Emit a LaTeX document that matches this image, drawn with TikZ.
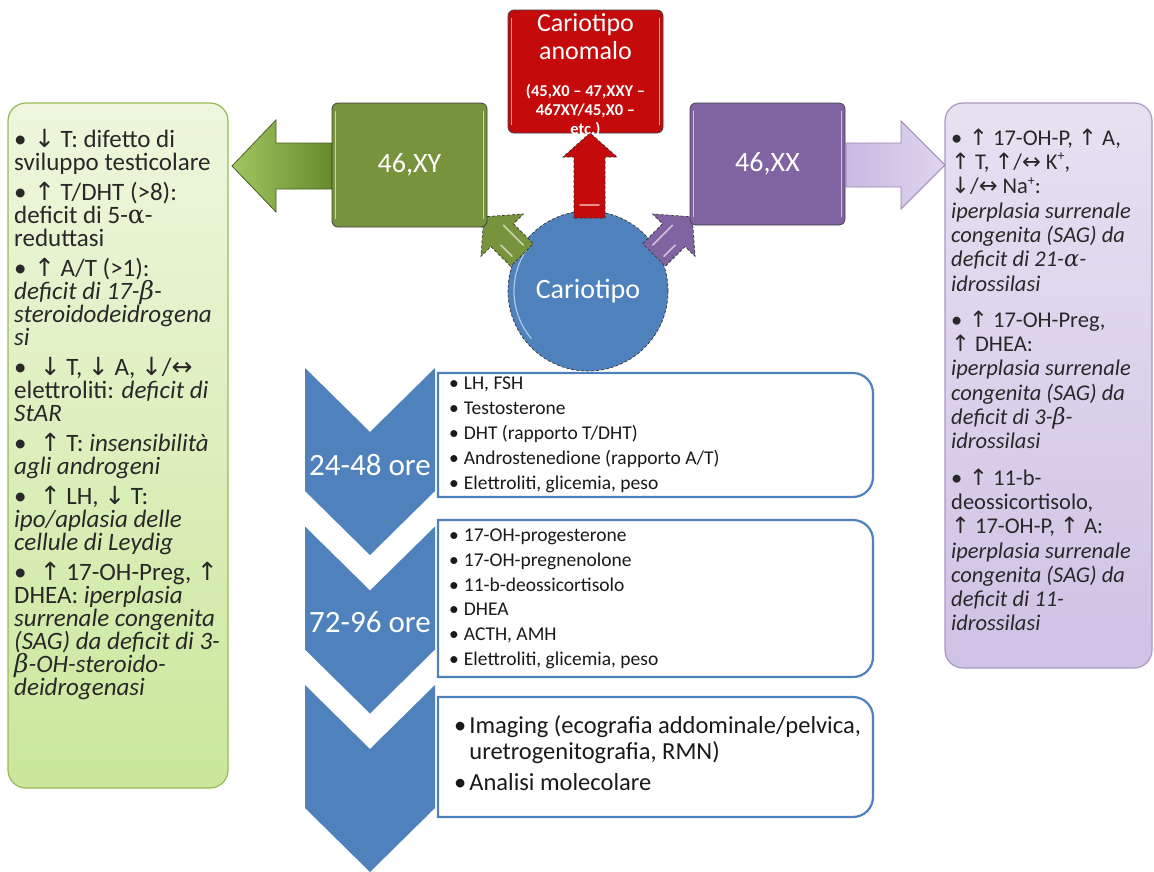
\documentclass[tikz,border=0pt]{standalone}
\usepackage{fontspec}
\setmainfont{Carlito}
\newfontfamily\symfont{DejaVu Sans}
\newfontfamily\gkfont{DejaVu Serif}
\newcommand\myua{{\symfont ↑}}
\newcommand\myda{{\symfont ↓}}
\newcommand\mylr{{\symfont ↔}}
\newcommand\myal{{\gkfont α}}
\newcommand\myali{{\gkfont\itshape α}}
\newcommand\mybe{{\gkfont\itshape β}}
\newcommand\mybul{\textbullet\hspace{0.3em}}
\newcommand\mysup[1]{\raisebox{0.38em}{\fontsize{14}{14}\selectfont #1}}
\definecolor{cgreen}{RGB}{119,147,60}
\definecolor{cred}{RGB}{196,10,10}
\definecolor{cpurple}{RGB}{128,100,162}
\definecolor{cblue}{RGB}{79,129,189}
\definecolor{lgtop}{RGB}{238,247,222}
\definecolor{lgbot}{RGB}{203,231,155}
\definecolor{lgborder}{RGB}{150,185,85}
\definecolor{lptop}{RGB}{231,225,241}
\definecolor{lpbot}{RGB}{206,194,229}
\definecolor{lpborder}{RGB}{170,152,196}
\definecolor{txt}{RGB}{40,40,40}
\definecolor{agl}{RGB}{160,198,96}
\definecolor{agd}{RGB}{104,138,46}
\definecolor{apl}{RGB}{200,186,225}
\definecolor{apr}{RGB}{222,213,238}
\begin{document}
\begin{tikzpicture}[x=1pt,y=-1pt,
  lpanel/.style={draw=lgborder, line width=1.2pt, rounded corners=18pt, top color=lgtop, bottom color=lgbot, minimum width=220pt, minimum height=685pt, inner sep=0},
  rpanel/.style={draw=lpborder, line width=1.2pt, rounded corners=18pt, top color=lptop, bottom color=lpbot, minimum width=207pt, minimum height=565pt, inner sep=0},
  kbox/.style={rounded corners=6pt, draw=black!75, line width=0.8pt, minimum width=155pt, inner sep=0, text=white, font=\fontsize{28}{32}\selectfont},
  chev/.style={fill=cblue},
  tbox/.style={draw=cblue, line width=2.2pt, fill=white},
  outl/.style={draw=black!80, line width=0.7pt, densely dashed},
  ltxt/.style={anchor=base west, inner sep=0, text=txt, font=\fontsize{25}{28}\selectfont},
  rtxt/.style={anchor=base west, inner sep=0, text=txt, font=\fontsize{22.5}{26}\selectfont},
  btxt/.style={anchor=base west, inner sep=0, text=black!90, font=\fontsize{19.5}{22}\selectfont},
  b3txt/.style={anchor=base west, inner sep=0, text=black!90, font=\fontsize{24.5}{28}\selectfont},
  wtxt/.style={text=white, inner sep=0, align=center},
  hl/.style={line width=1.6pt, line cap=round}
]
\useasboundingbox (0,0) rectangle (1154,871);
\fill[white] (0,0) rectangle (1154,871);

% side panels
\node[lpanel] (lp) at (118,445.5) {};
\node[rpanel] (rp) at (1048.5,385.5) {};

% big side arrows
\draw[left color=agl, right color=agd, draw=agd!70!black, line width=0.8pt]
  (332,143) -- (276,143) -- (276,120) -- (232,166) -- (276,212) -- (276,189) -- (332,189) -- cycle;
\draw[left color=apl, right color=apr, draw=cpurple!80, line width=0.8pt]
  (846,143) -- (901,143) -- (901,121) -- (945,165) -- (901,209) -- (901,187) -- (846,187) -- cycle;

% central circle
\node[circle, fill=cblue, outl, minimum size=160pt, inner sep=0, text=white, font=\fontsize{28}{32}\selectfont] (car) at (588,291) {Cariotipo};
\draw[white!55!cblue, line width=1.2pt] (car.center) ++(-140:74pt) arc[start angle=-140, end angle=-220, radius=74pt];

% small arrows
\begin{scope}[shift={(522,255)}, rotate=135]
  \draw[fill=cgreen, outl] (0,-16) -- (28,-16) -- (28,-30) -- (54,0) -- (28,30) -- (28,16) -- (0,16) -- cycle;
  \draw[hl, white!60!cgreen] (6,8) -- (34,8);
  \draw[hl, white!60!cgreen] (6,-8) -- (22,-8);
\end{scope}
\begin{scope}[shift={(654,255)}, rotate=45]
  \draw[fill=cpurple, outl] (0,-16) -- (28,-16) -- (28,-30) -- (54,0) -- (28,30) -- (28,16) -- (0,16) -- cycle;
  \draw[hl, white!60!cpurple] (6,8) -- (22,8);
  \draw[hl, white!60!cpurple] (6,-8) -- (34,-8);
\end{scope}

% red arrow
\draw[fill=cred, outl] (574,218) -- (574,157) -- (563,157) -- (590,133) -- (617,157) -- (605,157) -- (605,218) -- cycle;
\draw[hl, white!55!cred] (580,205) -- (599,205);

% karyotype boxes
\node[kbox, fill=cgreen, minimum height=124pt] (xy) at (409.5,165) {46,XY};
\node[kbox, fill=cpurple, minimum height=122pt] (xx) at (767.5,164) {46,XX};
\node[kbox, fill=cred, minimum height=123pt] (an) at (585.5,71.5) {};
\foreach \b/\c in {xy/cgreen, xx/cpurple, an/cred}{
  \draw[hl, white!60!\c] ([xshift=4pt,yshift=-9pt]\b.north west) -- ([xshift=4pt,yshift=9pt]\b.south west);
  \draw[hl, white!60!\c] ([xshift=-4pt,yshift=-9pt]\b.north east) -- ([xshift=-4pt,yshift=9pt]\b.south east);
}
\node[wtxt, font=\fontsize{26}{28}\selectfont] (an1) at (585.5,37) {Cariotipo\\anomalo};
\node[wtxt, font=\bfseries\fontsize{16.5}{19}\selectfont] (an2) at (585.5,111) {(45,X0 – 47,XXY –\\467XY/45,X0 –\\etc.)};

% chevrons
\foreach \t/\n in {368/c1, 526.5/c2, 685/c3}{
  \fill[chev] (305,\t) -- (370,\t+64) -- (435,\t) -- (435,\t+123) -- (370,\t+187) -- (305,\t+123) -- cycle;
}
\node[wtxt, font=\fontsize{31}{34}\selectfont] (h1) at (370,465) {24-48 ore};
\node[wtxt, font=\fontsize{31}{34}\selectfont] (h2) at (370,622) {72-96 ore};

% text boxes (square left corners, rounded right corners)
\foreach \a/\b in {373/497, 520/677, 697/817}{
  \draw[tbox] (650,\a) [rounded corners=20pt] -- (873,\a) -- (873,\b) -- (650,\b) [sharp corners] -- (438,\b) -- (438,\a) -- cycle;
}

% box 1 text
\foreach \i/\y/\t in {1/385/{LH, FSH}, 2/410/{Testosterone}, 3/435/{DHT (rapporto T/DHT)},
  4/460/{Androstenedione (rapporto A/T)}, 5/485/{Elettroliti, glicemia, peso}}{
  \node[btxt] (ba\i) at (449,\y+4.5) {\textbullet\hspace{5pt}\t};
}
% box 2 text
\foreach \i/\y/\t in {1/537/{17-OH-progesterone}, 2/561.8/{17-OH-pregnenolone}, 3/586.6/{11-b-deossicortisolo},
  4/611.4/{DHEA}, 5/636.2/{ACTH, AMH}, 6/661/{Elettroliti, glicemia, peso}}{
  \node[btxt] (bb\i) at (449,\y+4.5) {\textbullet\hspace{5pt}\t};
}
% box 3 text
\node[b3txt] (bc1) at (454,733) {\textbullet\hspace{3pt}Imaging (ecografia addominale/pelvica,};
\node[b3txt] (bc2) at (454,759) {\hphantom{\textbullet\hspace{3pt}}uretrogenitografia, RMN)};
\node[b3txt] (bc3) at (454,790) {\textbullet\hspace{3pt}Analisi molecolare};

% left panel text
\foreach \i/\y/\t in {
  1/142/{\mybul\myda\ T: difetto di},
  2/165/{sviluppo testicolare},
  3/195/{\mybul\myua\ T/DHT (>8):},
  4/218/{deficit di 5-\myal-},
  5/241/{reduttasi},
  6/271/{\mybul\myua\ A/T (>1):},
  7/294/{\textit{deficit di 17-\mybe-}},
  8/317/{\textit{steroidodeidrogena}},
  9/340/{\textit{si}},
  10/370/{\mybul\ \myda\ T, \myda\ A, \myda/\mylr},
  11/393/{elettroliti: \textit{deficit di}},
  12/416/{\textit{StAR}},
  13/446/{\mybul\ \myua\ T: \textit{insensibilità}},
  14/469/{\textit{agli androgeni}},
  15/499/{\mybul\ \myua\ LH, \myda\ T:},
  16/522/{\textit{ipo/aplasia delle}},
  17/545/{\textit{cellule di Leydig}},
  18/575/{\mybul\ \myua\ 17-OH-Preg, \myua},
  19/598/{DHEA: \textit{iperplasia}},
  20/621/{\textit{surrenale congenita}},
  21/644/{\textit{(SAG) da deficit di 3-}},
  22/667/{\mybe\textit{-OH-steroido-}},
  23/690/{\textit{deidrogenasi}}}{
  \node[ltxt] (lt\i) at (14,\y+5.7) {\t};
}

% right panel text
\foreach \i/\y/\t in {
  1/140/{\mybul\myua\ 17-OH-P, \myua\ A,},
  2/164.3/{\myua\ T, \myua/\mylr\ K\mysup{+},},
  3/188.6/{\myda/\mylr\ Na\mysup{+}:},
  4/212.9/{\textit{iperplasia surrenale}},
  5/237.2/{\textit{congenita (SAG) da}},
  6/261.5/{\textit{deficit di 21-\myali-}},
  7/285.8/{\textit{idrossilasi}},
  8/322.1/{\mybul\myua\ 17-OH-Preg,},
  9/346.4/{\myua\ DHEA:},
  10/370.7/{\textit{iperplasia surrenale}},
  11/395/{\textit{congenita (SAG) da}},
  12/419.3/{\textit{deficit di 3-\mybe-}},
  13/443.6/{\textit{idrossilasi}},
  14/479.9/{\mybul\myua\ 11-b-},
  15/504.2/{deossicortisolo,},
  16/528.5/{\myua\ 17-OH-P, \myua\ A:},
  17/552.8/{\textit{iperplasia surrenale}},
  18/577.1/{\textit{congenita (SAG) da}},
  19/601.4/{\textit{deficit di 11-}},
  20/625.7/{\textit{idrossilasi}}}{
  \node[rtxt] (rt\i) at (951,\y+5.2) {\t};
}
\end{tikzpicture}
\end{document}
